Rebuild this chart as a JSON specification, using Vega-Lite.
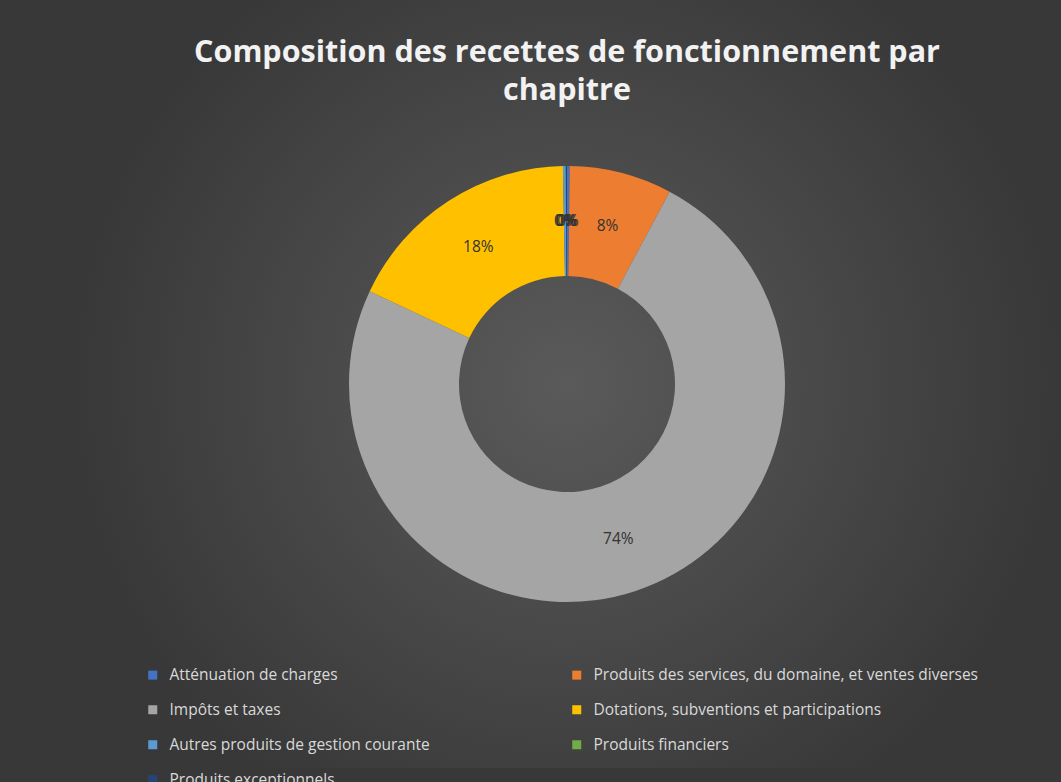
{
  "$schema": "https://vega.github.io/schema/vega-lite/v6.json",
  "width": 988,
  "height": 768,
  "autosize": {"type": "none"},
  "padding": {"left": 73, "top": 0, "right": 0, "bottom": 14},
  "background": "#383838",
  "view": {
    "stroke": null,
    "fill": {
      "gradient": "radial",
      "x1": 0.5, "y1": 0.5, "r1": 0,
      "x2": 0.5, "y2": 0.5, "r2": 0.5,
      "stops": [
        {"offset": 0, "color": "#5a5a5a"},
        {"offset": 1, "color": "#383838"}
      ]
    }
  },
  "title": {
    "text": ["Composition des recettes de fonctionnement par", "chapitre"],
    "font": "Open Sans",
    "fontSize": 30.5,
    "fontWeight": "bold",
    "color": "#f2f2f2",
    "lineHeight": 38,
    "anchor": "middle",
    "offset": -106
  },
  "data": {
    "values": [
      {"chapitre": "Atténuation de charges", "montant": 0.2, "ord": 1},
      {"chapitre": "Produits des services, du domaine, et ventes diverses", "montant": 7.6, "ord": 2},
      {"chapitre": "Impôts et taxes", "montant": 74.2, "ord": 3},
      {"chapitre": "Dotations, subventions et participations", "montant": 17.7, "ord": 4},
      {"chapitre": "Autres produits de gestion courante", "montant": 0.2, "ord": 5},
      {"chapitre": "Produits financiers", "montant": 0.02, "ord": 6},
      {"chapitre": "Produits exceptionnels", "montant": 0.08, "ord": 7}
    ]
  },
  "transform": [
    {"joinaggregate": [{"op": "sum", "field": "montant", "as": "total"}]},
    {"calculate": "datum.montant / datum.total", "as": "part"}
  ],
  "encoding": {
    "theta": {"field": "montant", "type": "quantitative", "stack": true},
    "order": {"field": "ord", "type": "quantitative"}
  },
  "layer": [
    {
      "mark": {"type": "arc", "radius": 218, "radius2": 108},
      "encoding": {
        "color": {
          "field": "chapitre",
          "type": "nominal",
          "sort": null,
          "scale": {
            "domain": [
              "Atténuation de charges",
              "Produits des services, du domaine, et ventes diverses",
              "Impôts et taxes",
              "Dotations, subventions et participations",
              "Autres produits de gestion courante",
              "Produits financiers",
              "Produits exceptionnels"
            ],
            "range": ["#4472C4", "#ED7D31", "#A5A5A5", "#FFC000", "#5B9BD5", "#70AD47", "#264478"]
          },
          "legend": {
            "title": null,
            "orient": "none",
            "direction": "horizontal",
            "legendX": 72,
            "legendY": 667,
            "columns": 2,
            "columnPadding": 139,
            "rowPadding": 18,
            "symbolType": "square",
            "symbolSize": 81,
            "symbolStrokeWidth": 0,
            "labelFont": "Open Sans",
            "labelFontSize": 15.5,
            "labelColor": "#d9d9d9",
            "labelOffset": 9,
            "labelLimit": 600
          }
        }
      }
    },
    {
      "mark": {"type": "text", "radius": 163, "font": "Open Sans", "fontSize": 15.5, "color": "#333333"},
      "encoding": {
        "text": {"field": "part", "type": "quantitative", "format": ".0%"}
      }
    }
  ]
}
